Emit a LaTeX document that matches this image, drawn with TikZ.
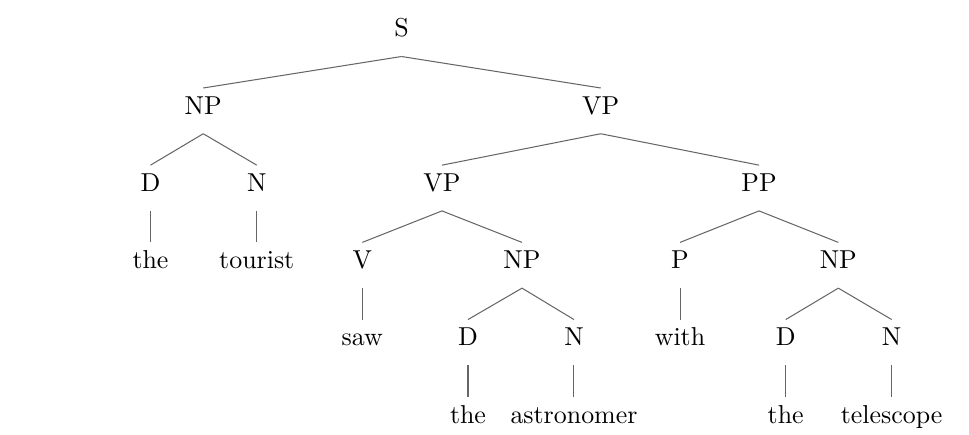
\documentclass[tikz,border=0pt]{standalone}
\usepackage{tikz}
\usetikzlibrary{positioning}

\begin{document}
\begin{tikzpicture}[
        cat/.style={anchor=base, inner sep=3.33pt, text height=6.6pt, text depth=4pt, font=\normalsize},
        branch/.style={draw=black!60, line width=0.4pt}
    ]
        \useasboundingbox (0, 0) rectangle (13.148, -5.902);

        % phrase and word nodes
        \node[cat] (s) at (5.448, -0.502) {S};

        \node[cat] (np1) at (2.758, -1.550) {NP};
        \node[cat] (vp1) at (8.151, -1.550) {VP};

        \node[cat] (d1) at (2.042, -2.597) {D};
        \node[cat] (n1) at (3.484, -2.597) {N};
        \node[cat] (vp2) at (5.997, -2.597) {VP};
        \node[cat] (pp) at (10.299, -2.597) {PP};

        \node[cat] (the1) at (2.042, -3.645) {the};
        \node[cat] (tourist) at (3.484, -3.645) {tourist};
        \node[cat] (v) at (4.916, -3.645) {V};
        \node[cat] (np2) at (7.083, -3.645) {NP};
        \node[cat] (p) at (9.227, -3.645) {P};
        \node[cat] (np3) at (11.375, -3.645) {NP};

        \node[cat] (saw) at (4.916, -4.692) {saw};
        \node[cat] (d2) at (6.350, -4.692) {D};
        \node[cat] (n2) at (7.788, -4.692) {N};
        \node[cat] (with) at (9.227, -4.692) {with};
        \node[cat] (d3) at (10.661, -4.692) {D};
        \node[cat] (n3) at (12.099, -4.692) {N};

        \node[cat] (the2) at (6.350, -5.740) {the};
        \node[cat] (astronomer) at (7.788, -5.740) {astronomer};
        \node[cat] (the3) at (10.661, -5.740) {the};
        \node[cat] (telescope) at (12.099, -5.740) {telescope};

        % branches
        \draw[branch] (s.south) -- (np1.north);
        \draw[branch] (s.south) -- (vp1.north);
        \draw[branch] (np1.south) -- (d1.north);
        \draw[branch] (np1.south) -- (n1.north);
        \draw[branch] (vp1.south) -- (vp2.north);
        \draw[branch] (vp1.south) -- (pp.north);
        \draw[branch] (d1.south) -- (the1.north);
        \draw[branch] (n1.south) -- (tourist.north);
        \draw[branch] (vp2.south) -- (v.north);
        \draw[branch] (vp2.south) -- (np2.north);
        \draw[branch] (pp.south) -- (p.north);
        \draw[branch] (pp.south) -- (np3.north);
        \draw[branch] (v.south) -- (saw.north);
        \draw[branch] (np2.south) -- (d2.north);
        \draw[branch] (np2.south) -- (n2.north);
        \draw[branch] (p.south) -- (with.north);
        \draw[branch] (np3.south) -- (d3.north);
        \draw[branch] (np3.south) -- (n3.north);
        \draw[branch] (d2.south) -- (the2.north);
        \draw[branch] (n2.south) -- (astronomer.north);
        \draw[branch] (d3.south) -- (the3.north);
        \draw[branch] (n3.south) -- (telescope.north);
    \end{tikzpicture}
\end{document}
